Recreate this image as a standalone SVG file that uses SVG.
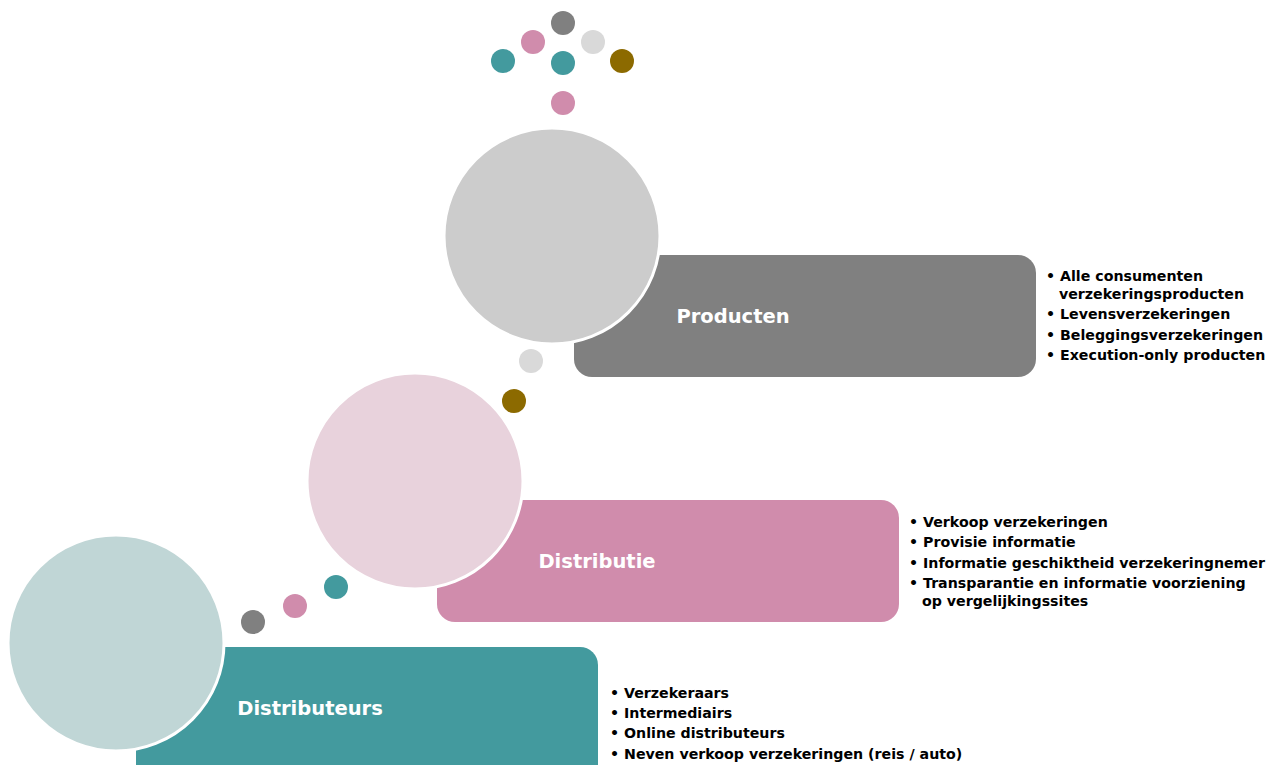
<svg xmlns="http://www.w3.org/2000/svg" width="1279" height="765" viewBox="0 0 1279 765">
<style>
.lbl{font-family:"DejaVu Sans",Verdana,sans-serif;font-weight:bold;font-size:19.5px;fill:#ffffff;text-anchor:middle}
.lst{font-family:"DejaVu Sans",Verdana,sans-serif;font-weight:bold;font-size:14.2px;fill:#000000}
.big{stroke:#ffffff;stroke-width:3}
</style>
<rect width="1279" height="765" fill="#ffffff"/>
<g id="dots">
<circle cx="563" cy="23" r="12" fill="#808080"/>
<circle cx="533" cy="42" r="12" fill="#D08CAC"/>
<circle cx="593" cy="42" r="12" fill="#D9D9D9"/>
<circle cx="503" cy="61" r="12" fill="#439A9E"/>
<circle cx="563" cy="63" r="12" fill="#439A9E"/>
<circle cx="622" cy="61" r="12" fill="#8C6A00"/>
<circle cx="563" cy="103" r="12" fill="#D08CAC"/>
<circle cx="531" cy="361" r="12" fill="#D9D9D9"/>
<circle cx="514" cy="401" r="12" fill="#8C6A00"/>
<circle cx="253" cy="622" r="12" fill="#808080"/>
<circle cx="295" cy="606" r="12" fill="#D08CAC"/>
<circle cx="336" cy="587" r="12" fill="#439A9E"/>
</g>
<g id="producten">
<rect x="574" y="255" width="462" height="122" rx="18" fill="#808080"/>
<circle class="big" cx="552" cy="236" r="108" fill="#CCCCCC"/>
<text class="lbl" x="733" y="323">Producten</text>
<text class="lst" x="1046" y="281">• Alle consumenten</text>
<text class="lst" x="1059" y="299">verzekeringsproducten</text>
<text class="lst" x="1046" y="319">• Levensverzekeringen</text>
<text class="lst" x="1046" y="340">• Beleggingsverzekeringen</text>
<text class="lst" x="1046" y="360">• Execution-only producten</text>
</g>
<g id="distributie">
<rect x="437" y="500" width="462" height="122" rx="18" fill="#D08CAC"/>
<circle class="big" cx="415" cy="481" r="108" fill="#E8D2DC"/>
<text class="lbl" x="597" y="568">Distributie</text>
<text class="lst" x="909" y="527">• Verkoop verzekeringen</text>
<text class="lst" x="909" y="547">• Provisie informatie</text>
<text class="lst" x="909" y="568">• Informatie geschiktheid verzekeringnemer</text>
<text class="lst" x="909" y="588">• Transparantie en informatie voorziening</text>
<text class="lst" x="922" y="606">op vergelijkingssites</text>
</g>
<g id="distributeurs">
<rect x="136" y="647" width="462" height="140" rx="18" fill="#439A9E"/>
<circle class="big" cx="116" cy="643" r="108" fill="#C0D6D6"/>
<text class="lbl" x="310" y="715">Distributeurs</text>
<text class="lst" x="610" y="698">• Verzekeraars</text>
<text class="lst" x="610" y="718">• Intermediairs</text>
<text class="lst" x="610" y="738">• Online distributeurs</text>
<text class="lst" x="610" y="759">• Neven verkoop verzekeringen (reis / auto)</text>
</g>
<g id="connectors"/>
</svg>
